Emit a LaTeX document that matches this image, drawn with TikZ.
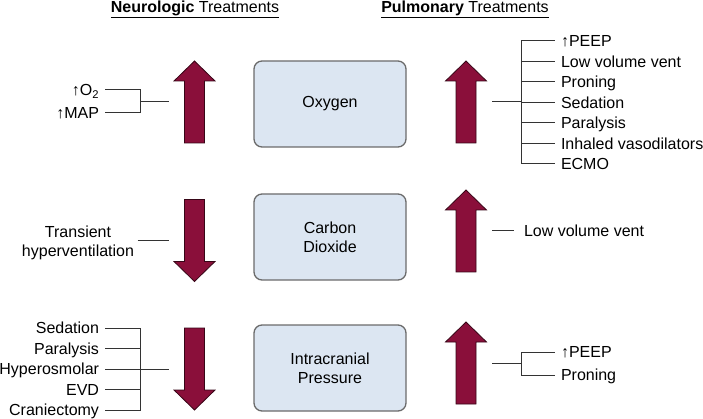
\documentclass[tikz,border=0pt]{standalone}
\usepackage{fontspec}
\setmainfont{Liberation Sans}
\definecolor{arrowred}{HTML}{8A0F3A}
\definecolor{boxblue}{HTML}{DCE6F2}
\definecolor{boxedge}{HTML}{6B6B6B}
\definecolor{wirecol}{HTML}{333333}
\newcommand{\lbfont}{\fontsize{16}{19}\selectfont}

\tikzset{
	gas/.style={draw=boxedge, line width=1.3pt, fill=boxblue, rounded corners=8pt,
		minimum width=152pt, minimum height=86pt, align=center, font=\lbfont},
	lab/.style={inner xsep=3pt, outer xsep=3pt, inner ysep=0pt,
		text height=11.5pt, text depth=0pt, font=\lbfont},
	wire/.style={draw=wirecol, line width=1pt},
	bigup/.pic={\path[fill=arrowred, draw=black!60!arrowred, line width=0.8pt]
		(-10,41) -- (-10,-21) -- (-20.5,-21) -- (0,-41) -- (20.5,-21) -- (10,-21) -- (10,41) -- cycle;}
}

\begin{document}
\begin{tikzpicture}[x=1pt,y=-1pt]
		\useasboundingbox (0,0) rectangle (703,419);
		% headings
		\node[font=\lbfont, anchor=base] (hneuro) at (195,12.5) {\underline{\textbf{Neurologic} Treatments}};
		\node[font=\lbfont, anchor=base] (hpulm)  at (465,12.5) {\underline{\textbf{Pulmonary} Treatments}};
		
		% gases
		\node[gas] (oxy) at (330,104) {Oxygen};
		\node[gas] (co2) at (330,237) {Carbon\\Dioxide};
		\node[gas] (icp) at (330,368) {Intracranial\\Pressure};
		
		% big arrows
		\pic at (194.5,102) {bigup};
		\pic[rotate=180] at (194.5,240.5) {bigup};
		\pic[rotate=180] at (194.5,369) {bigup};
		\pic at (466,102) {bigup};
		\pic at (466,231) {bigup};
		\pic at (466,363) {bigup};
		
		% junctions and stem ends
		\coordinate (lj1) at (140,102);   \coordinate (la1) at (169,102);
		\coordinate (la2) at (169,241);
		\coordinate (lj3) at (140,369);   \coordinate (la3) at (169,369);
		\coordinate (ra1) at (492,102);   \coordinate (rj1) at (521,102);
		\coordinate (ra2) at (492,231);
		\coordinate (ra3) at (492,363);   \coordinate (rj3) at (521,363);
		
		% neurologic: oxygen
		\node[lab, anchor=east] (no2)  at (105,90)  {↑O\textsubscript{2}};
		\node[lab, anchor=east] (nmap) at (105,113) {↑MAP};
		\draw[wire] (no2.east) -| (lj1) (nmap.east) -| (lj1) (lj1) -- (la1);
		
		% neurologic: carbon dioxide
		\node[font=\lbfont, align=center] (nhyp) at (78,243) {Transient\\hyperventilation};
		\draw[wire] (nhyp.east |- la2) -- (la2);
		
		% neurologic: pressure
		\foreach \t [count=\i from 0] in {Sedation,Paralysis,Hyperosmolar,EVD,Craniectomy}
		{
			\node[lab, anchor=east] (ni\i) at (105,328+20.5*\i) {\t};
			\draw[wire] (ni\i.east) -| (lj3);
		}
		\draw[wire] (lj3) -- (la3);
		
		% pulmonary: oxygen
		\foreach \t [count=\i from 0] in {↑PEEP,Low volume vent,Proning,Sedation,Paralysis,Inhaled vasodilators,ECMO}
		{
			\node[lab, anchor=west] (po\i) at (555,41+20.5*\i) {\t};
			\draw[wire] (rj1) |- (po\i.west);
		}
		\draw[wire] (ra1) -- (rj1);
		
		% pulmonary: carbon dioxide
		\node[lab, anchor=west, inner xsep=7pt] (pvent) at (514,231) {Low volume vent};
		\draw[wire] (ra2) -- (pvent.west);
		
		% pulmonary: pressure
		\node[lab, anchor=west] (pi0) at (555,352) {↑PEEP};
		\node[lab, anchor=west] (pi1) at (555,375) {Proning};
		\draw[wire] (ra3) -- (rj3) (rj3) |- (pi0.west) (rj3) |- (pi1.west);
	\end{tikzpicture}
\end{document}
